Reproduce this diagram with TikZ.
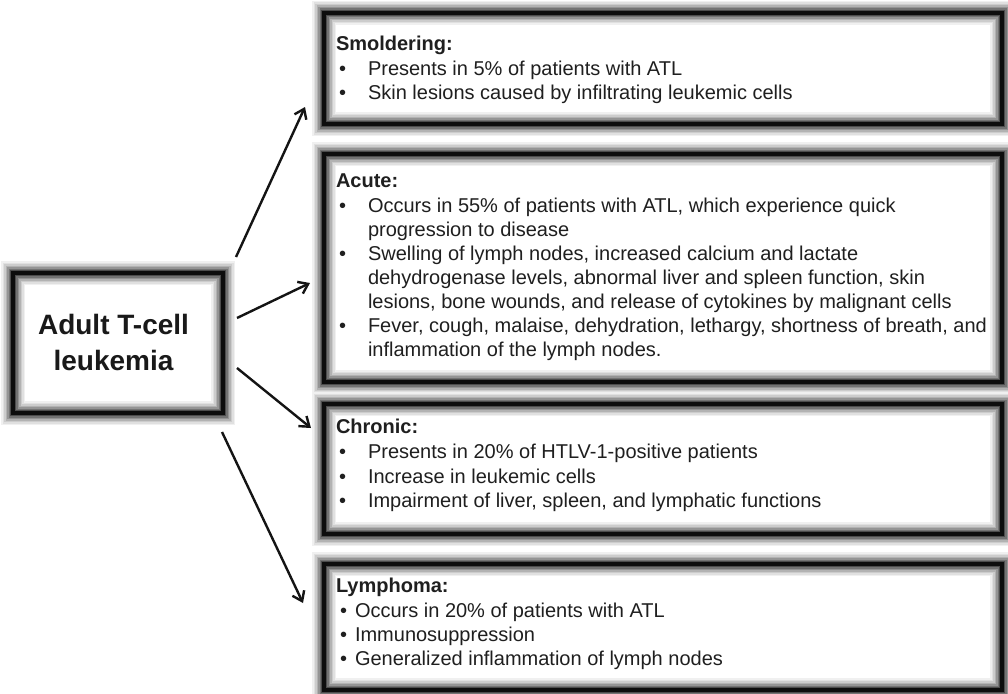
\documentclass[tikz,border=0pt]{standalone}
\usepackage{fontspec}
\setmainfont{Liberation Sans}
\usetikzlibrary{arrows.meta}
\begin{document}
\begin{tikzpicture}[x=1pt,y=-1pt,
  glowbox/.style={rectangle, inner sep=0pt, outer sep=0pt, draw=black!95, line width=3.4pt,
    preaction={draw=black!6, line width=24pt},
    preaction={draw=black!12, line width=21pt},
    preaction={draw=black!20, line width=18pt},
    preaction={draw=black!30, line width=15pt},
    preaction={draw=black!42, line width=12pt},
    preaction={draw=black!55, line width=9pt},
    preaction={draw=black!70, line width=6pt}},
  txt/.style={anchor=base west, inner sep=0pt, outer sep=0pt, text=black!88,
    font=\fontsize{20pt}{24pt}\selectfont},
  lbl/.style={txt, font=\bfseries\fontsize{20pt}{24pt}\selectfont},
  bul/.style={txt},
  title/.style={anchor=base, inner sep=0pt, text=black!90,
    font=\bfseries\fontsize{28pt}{34pt}\selectfont},
  arr/.style={-{Straight Barb[length=9pt,width=13pt]}, line width=2.4pt, black!92}]
\fill[white] (0,0) rectangle (1008,693);
\useasboundingbox (0,0) rectangle (1008,693);

% boxes
\node[glowbox, minimum width=210pt, minimum height=140pt] (main) at (118,343) {};
\node[glowbox, minimum width=678pt, minimum height=111pt] (smold) at (663,68.5) {};
\node[glowbox, minimum width=678pt, minimum height=228pt] (acute) at (663,268) {};
\node[glowbox, minimum width=678pt, minimum height=130pt] (chron) at (663,469) {};
\node[glowbox, minimum width=678pt, minimum height=126pt] (lymph) at (663,627) {};

% main title
\node[title] (t1) at (113.5,334) {Adult T-cell};
\node[title] (t2) at (113.5,370) {leukemia};

% Smoldering
\node[lbl] (s0) at (336,51) {Smoldering:};
\node[bul] (sb1) at (339,75) {•};
\node[txt] (s1) at (368,75) {Presents in 5\% of patients with ATL};
\node[bul] (sb2) at (339,99) {•};
\node[txt] (s2) at (368,99) {Skin lesions caused by infiltrating leukemic cells};

% Acute
\node[lbl] (a0) at (336,187) {Acute:};
\node[bul] (ab1) at (339,212) {•};
\node[txt] (a1) at (368,212) {Occurs in 55\% of patients with ATL, which experience quick};
\node[txt] (a2) at (368,236) {progression to disease};
\node[bul] (ab2) at (339,260) {•};
\node[txt] (a3) at (368,260) {Swelling of lymph nodes, increased calcium and lactate};
\node[txt] (a4) at (368,284) {dehydrogenase levels, abnormal liver and spleen function, skin};
\node[txt] (a5) at (368,308) {lesions, bone wounds, and release of cytokines by malignant cells};
\node[bul] (ab3) at (339,332) {•};
\node[txt] (a6) at (368,332) {Fever, cough, malaise, dehydration, lethargy, shortness of breath, and};
\node[txt] (a7) at (368,356) {inflammation of the lymph nodes.};

% Chronic
\node[lbl] (c0) at (336,433) {Chronic:};
\node[bul] (cb1) at (339,458) {•};
\node[txt] (c1) at (368,458) {Presents in 20\% of HTLV-1-positive patients};
\node[bul] (cb2) at (339,483) {•};
\node[txt] (c2) at (368,483) {Increase in leukemic cells};
\node[bul] (cb3) at (339,507) {•};
\node[txt] (c3) at (368,507) {Impairment of liver, spleen, and lymphatic functions};

% Lymphoma
\node[lbl] (l0) at (336,592) {Lymphoma:};
\node[bul] (lb1) at (340,617) {•};
\node[txt] (l1) at (355,617) {Occurs in 20\% of patients with ATL};
\node[bul] (lb2) at (340,641) {•};
\node[txt] (l2) at (355,641) {Immunosuppression};
\node[bul] (lb3) at (340,665) {•};
\node[txt] (l3) at (355,665) {Generalized inflammation of lymph nodes};

% arrows
\coordinate (p1s) at (236,257); \coordinate (p1e) at (305,107);
\coordinate (p2s) at (237,318); \coordinate (p2e) at (310,283);
\coordinate (p3s) at (237,368); \coordinate (p3e) at (311,428);
\coordinate (p4s) at (222,432); \coordinate (p4e) at (303,603);
\draw[arr] (p1s) -- (p1e);
\draw[arr] (p2s) -- (p2e);
\draw[arr] (p3s) -- (p3e);
\draw[arr] (p4s) -- (p4e);
\end{tikzpicture}
\end{document}
